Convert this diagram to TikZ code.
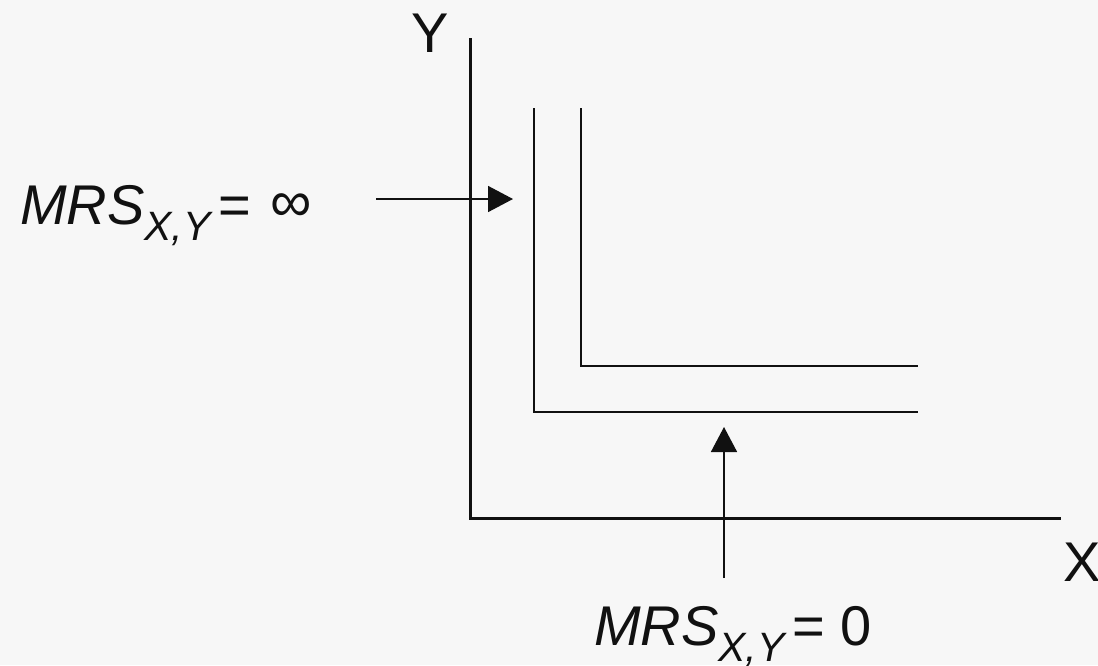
\documentclass[tikz,border=0pt]{standalone}
\usepackage{fontspec}
\setmainfont{Liberation Sans}
\usetikzlibrary{arrows.meta}
\definecolor{bg}{HTML}{F7F7F7}
\definecolor{ink}{HTML}{111111}
\tikzset{
  axis/.style={line width=3pt, draw=ink},
  curve/.style={line width=1.6pt, draw=ink},
  pointer/.style={line width=1.6pt, draw=ink, -{Triangle[length=25pt,width=26pt]}},
  lbl/.style={inner sep=0pt, outer sep=0pt, text=ink, font=\fontsize{56}{60}\selectfont},
}
\newcommand{\mrs}[1]{{\itshape MRS}\raisebox{-16pt}{\fontsize{41}{44}\selectfont\itshape X,Y}\hspace{8pt}= #1}
\begin{document}
\begin{tikzpicture}[x=1pt,y=-1pt]
\fill[bg] (0,0) rectangle (1098,665);
\useasboundingbox (0,0) rectangle (1098,665);
% axes
\coordinate (O) at (470,518);
\coordinate (Ytop) at (470,38);
\coordinate (Xend) at (1061,518);
\draw[axis] (Ytop) -- (O) -- (Xend);
\node[lbl, anchor=center] (ylab) at (430,33) {Y};
\node[lbl, anchor=center] (xlab) at (1082,562) {X};
% indifference curves
\coordinate (a1) at (534,108);
\coordinate (a2) at (534,412);
\coordinate (a3) at (918,412);
\coordinate (b1) at (581,108);
\coordinate (b2) at (581,366);
\coordinate (b3) at (918,366);
\draw[curve] (a1) -- (a2) -- (a3);
\draw[curve] (b1) -- (b2) -- (b3);
% labels
\node[lbl, anchor=base west] (inf) at (20,224) {\mrs{\hspace{4pt}\raisebox{3pt}{\fontsize{58}{60}\selectfont ∞}}};
\node[lbl, anchor=base west] (zero) at (594,645) {\mrs{0}};
% arrows
\coordinate (p1) at (376,199);
\coordinate (p2) at (513,199);
\coordinate (q1) at (724,578);
\coordinate (q2) at (724,427);
\draw[pointer] (p1) -- (p2);
\draw[pointer] (q1) -- (q2);
\end{tikzpicture}
\end{document}
